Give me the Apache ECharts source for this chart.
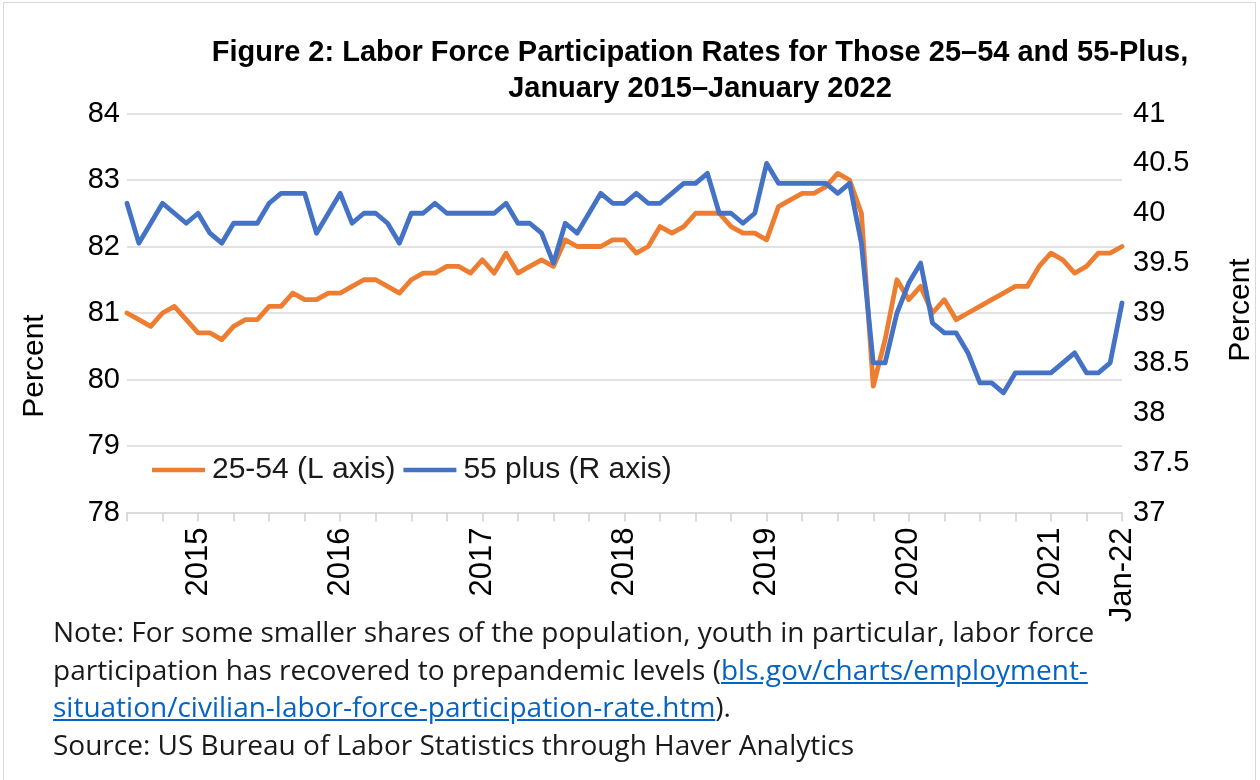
<!DOCTYPE html>
<html>
<head>
<meta charset="utf-8">
<title>Labor Force Participation Rates</title>
<script src="https://cdn.jsdelivr.net/npm/echarts@6/dist/echarts.min.js"></script>
<style>
  html, body { margin: 0; padding: 0; background: #fff; }
  #wrap { position: relative; width: 1260px; height: 780px; overflow: hidden; background: #fff; }
  #chart { position: absolute; left: 0; top: 0; width: 1260px; height: 780px; }
  #frame { position: absolute; left: 3px; top: 2px; width: 1253px; height: 790px; border: 1.5px solid #d9d9d9; box-sizing: border-box; pointer-events: none; }
  #note { position: absolute; left: 53px; top: 613px; font-family: "Open Sans", "Noto Sans", sans-serif; font-size: 28px; line-height: 37.5px; color: #1a1a1a; white-space: nowrap; }
  #note a { color: #0563C1; text-decoration: underline; }
</style>
</head>
<body>
<div id="wrap">
  <div id="chart"></div>
  <div id="frame"></div>
  <div id="note">Note: For some smaller shares of the population, youth in particular, labor force<br>participation has recovered to prepandemic levels (<a>bls.gov/charts/employment-<br>situation/civilian-labor-force-participation-rate.htm</a>).<br>Source: US Bureau of Labor Statistics through Haver Analytics</div>
</div>
<script>
// Monthly categories, January 2015 through January 2022
const monthNames = ['Jan','Feb','Mar','Apr','May','Jun','Jul','Aug','Sep','Oct','Nov','Dec'];
const months = [];
for (let yr = 15; yr <= 22; yr++) {
  for (let m = 0; m < 12; m++) {
    if (yr === 22 && m > 0) break;
    months.push(monthNames[m] + '-' + yr);
  }
}

// Axis label placement: year labels sit under mid-year, plus the final month
const xLabelMonths = ['Jul-15','Jul-16','Jul-17','Jul-18','Jul-19','Jul-20','Jul-21','Jan-22'];
const xLabelText   = ['2015','2016','2017','2018','2019','2020','2021','Jan-22'];

// Participation rate, ages 25-54 (percent, left axis)
const prime = [
  81.0, 80.9, 80.8, 81.0, 81.1, 80.9, 80.7, 80.7, 80.6, 80.8, 80.9, 80.9,
  81.1, 81.1, 81.3, 81.2, 81.2, 81.3, 81.3, 81.4, 81.5, 81.5, 81.4, 81.3,
  81.5, 81.6, 81.6, 81.7, 81.7, 81.6, 81.8, 81.6, 81.9, 81.6, 81.7, 81.8,
  81.7, 82.1, 82.0, 82.0, 82.0, 82.1, 82.1, 81.9, 82.0, 82.3, 82.2, 82.3,
  82.5, 82.5, 82.5, 82.3, 82.2, 82.2, 82.1, 82.6, 82.7, 82.8, 82.8, 82.9,
  83.1, 83.0, 82.5, 79.9, 80.6, 81.5, 81.2, 81.4, 81.0, 81.2, 80.9, 81.0,
  81.1, 81.2, 81.3, 81.4, 81.4, 81.7, 81.9, 81.8, 81.6, 81.7, 81.9, 81.9,
  82.0
];

// Participation rate, ages 55 and over (percent, right axis)
const older = [
  40.1, 39.7, 39.9, 40.1, 40.0, 39.9, 40.0, 39.8, 39.7, 39.9, 39.9, 39.9,
  40.1, 40.2, 40.2, 40.2, 39.8, 40.0, 40.2, 39.9, 40.0, 40.0, 39.9, 39.7,
  40.0, 40.0, 40.1, 40.0, 40.0, 40.0, 40.0, 40.0, 40.1, 39.9, 39.9, 39.8,
  39.5, 39.9, 39.8, 40.0, 40.2, 40.1, 40.1, 40.2, 40.1, 40.1, 40.2, 40.3,
  40.3, 40.4, 40.0, 40.0, 39.9, 40.0, 40.5, 40.3, 40.3, 40.3, 40.3, 40.3,
  40.2, 40.3, 39.7, 38.5, 38.5, 39.0, 39.3, 39.5, 38.9, 38.8, 38.8, 38.6,
  38.3, 38.3, 38.2, 38.4, 38.4, 38.4, 38.4, 38.5, 38.6, 38.4, 38.4, 38.5,
  39.1
];

const axisFont = 'Liberation Sans, Arial, sans-serif';
const chart = echarts.init(document.getElementById('chart'), null, { renderer: 'canvas' });

chart.setOption({
  animation: false,
  backgroundColor: 'transparent',
  title: {
    text: 'Figure 2: Labor Force Participation Rates for Those 25\u201354 and 55-Plus,\nJanuary 2015\u2013January 2022',
    left: 695,
    top: 30,
    textAlign: 'center',
    textStyle: {
      fontFamily: '"Liberation Sans", sans-serif',
      fontWeight: 'bold',
      fontSize: 29,
      lineHeight: 36,
      color: '#000'
    }
  },
  legend: {
    left: 147,
    top: 450,
    icon: 'rect',
    itemWidth: 53,
    itemHeight: 4.5,
    itemGap: 8,
    textStyle: { fontFamily: axisFont, fontSize: 30, color: '#1a1a1a', padding: [0, 0, 0, 2] },
    data: ['25-54 (L axis)', '55 plus (R axis)']
  },
  grid: { left: 127, right: 138, top: 113.5, bottom: 267.5, containLabel: false },
  xAxis: {
    type: 'category',
    data: months,
    boundaryGap: false,
    axisLine: { lineStyle: { color: '#d9d9d9', width: 1.5 } },
    axisTick: {
      show: true,
      length: 9,
      interval: (i) => i % 3 === 0,
      lineStyle: { color: '#d0d0d0', width: 1.5 }
    },
    axisLabel: {
      interval: (i, v) => xLabelMonths.includes(v),
      formatter: (v) => xLabelText[xLabelMonths.indexOf(v)] || '',
      rotate: 90,
      margin: 15,
      fontFamily: axisFont,
      fontSize: 31,
      color: '#000'
    },
    splitLine: { show: false }
  },
  yAxis: [
    {
      type: 'value',
      min: 78,
      max: 84,
      interval: 1,
      axisLine: { show: false },
      axisTick: { show: false },
      axisLabel: { margin: 7, fontFamily: axisFont, fontSize: 29, color: '#000' },
      splitLine: { lineStyle: { color: '#d9d9d9', width: 1.5 } }
    },
    {
      type: 'value',
      min: 37,
      max: 41,
      interval: 0.5,
      axisLine: { show: false },
      axisTick: { show: false },
      axisLabel: { margin: 11, fontFamily: axisFont, fontSize: 29, color: '#000' },
      splitLine: { show: false }
    }
  ],
  series: [
    {
      name: '25-54 (L axis)',
      type: 'line',
      yAxisIndex: 0,
      data: prime,
      symbol: 'none',
      color: '#ED7D31',
      lineStyle: { width: 4.8, color: '#ED7D31', join: 'round', cap: 'round' },
      z: 2
    },
    {
      name: '55 plus (R axis)',
      type: 'line',
      yAxisIndex: 1,
      data: older,
      symbol: 'none',
      color: '#4472C4',
      lineStyle: { width: 4.8, color: '#4472C4', join: 'round', cap: 'round' },
      z: 3
    }
  ],
  graphic: [
    {
      type: 'text',
      x: 35,
      y: 366,
      rotation: Math.PI / 2,
      style: { text: 'Percent', fontFamily: axisFont, fontSize: 30, fill: '#000', align: 'center', verticalAlign: 'middle' }
    },
    {
      type: 'text',
      x: 1241,
      y: 310,
      rotation: Math.PI / 2,
      style: { text: 'Percent', fontFamily: axisFont, fontSize: 30, fill: '#000', align: 'center', verticalAlign: 'middle' }
    }
  ]
});
</script>
</body>
</html>
